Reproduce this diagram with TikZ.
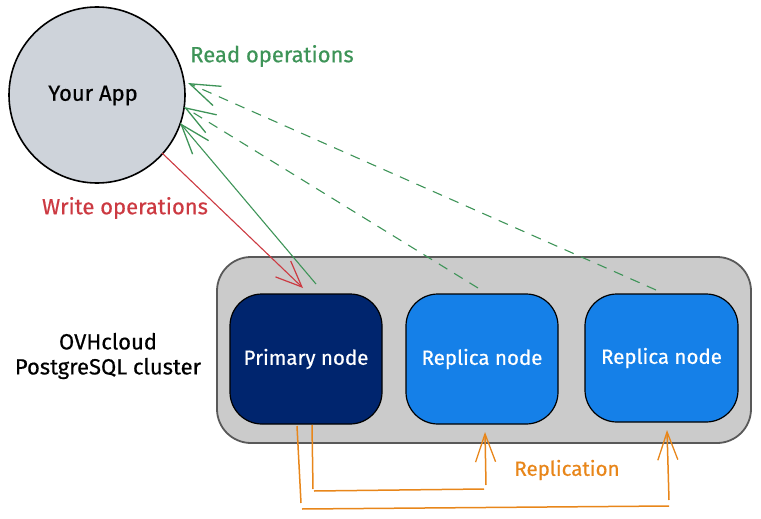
\documentclass[tikz,border=0pt]{standalone}
\usepackage{fontspec}
\setmainfont{Fira Sans}[FakeBold=0.5]
\usetikzlibrary{arrows.meta}
\definecolor{gr}{HTML}{3E9458}
\definecolor{rd}{HTML}{CC3A42}
\definecolor{og}{HTML}{E8861A}
\definecolor{navy}{HTML}{00256E}
\definecolor{blu}{HTML}{1580E8}
\definecolor{clu}{HTML}{CBCBCB}
\definecolor{appc}{HTML}{CED3DA}
\tikzset{
  x=1pt,y=-1pt,
  lbl/.style={font=\fontsize{22}{25}\selectfont,align=center,inner sep=0pt},
  dbnode/.style={draw=black,line width=1.2pt,rounded corners=32pt,minimum width=152pt,minimum height=130pt,inner sep=0pt,text=white,font=\fontsize{20.5}{24}\selectfont},
  readarrow/.style={gr,line width=1.1pt,-{Straight Barb[length=30pt,width=21pt,line width=1.3pt]}},
  writearrow/.style={rd,line width=1.1pt,-{Straight Barb[length=26pt,width=22pt,line width=1.2pt]}},
  replarrow/.style={og,line width=1.5pt,-{Straight Barb[length=28pt,width=20pt,line width=1.3pt]}}
}
\begin{document}
\begin{tikzpicture}
\useasboundingbox (0,0) rectangle (761,519);
\node[circle,draw=black,line width=1.6pt,fill=appc,minimum size=176pt,inner sep=0pt] (app) at (97,95) {};
\node[lbl] (applabel) at (93,95.5) {Your App};
\node[draw=black!65,line width=1.8pt,fill=clu,rounded corners=34pt,minimum width=534pt,minimum height=186pt,inner sep=0pt] (cluster) at (484,350) {};
\node[dbnode,fill=navy] (primary) at (306,359) {Primary node};
\node[dbnode,fill=blu] (replicaa) at (482,359) {Replica node};
\node[dbnode,fill=blu,minimum width=153pt,minimum height=128pt] (replicab) at (661.5,358) {Replica node};
\node[lbl] (clusterlabel) at (108,356) {OVHcloud\\PostgreSQL cluster};
\node[lbl,text=gr] (readlabel) at (272,56) {Read operations};
\node[lbl,text=rd] (writelabel) at (125,208) {Write operations};
\node[lbl,text=og,font=\fontsize{20.5}{24}\selectfont] (repllabel) at (567,470) {Replication};
% read
\coordinate (ra) at (188,83);
\coordinate (rb) at (184,107);
\coordinate (rc) at (180,123);
\coordinate (sa) at (656,290);
\coordinate (sb) at (478,288);
\coordinate (sc) at (316,284);
\draw[readarrow,dash pattern=on 10pt off 8pt] (sa) -- (ra);
\draw[readarrow,dash pattern=on 10pt off 8pt] (sb) -- (rb);
\draw[readarrow] (sc) -- (rc);
% write
\coordinate (wa) at (162,153);
\coordinate (wb) at (303,288);
\draw[writearrow] (wa) -- (wb);
% replication
\coordinate (ia) at (312,425);
\coordinate (ib) at (313,489);
\coordinate (ic) at (314,491);
\coordinate (id) at (484,489);
\coordinate (ie) at (486,485);
\coordinate (if) at (485,432);
\draw[replarrow] (ia) -- (ib) (ic) -- (id) (ie) -- (if);
\coordinate (oa) at (297,426);
\coordinate (ob) at (301,503);
\coordinate (oc) at (302,509);
\coordinate (od) at (669,506);
\coordinate (oe) at (669,500);
\coordinate (of) at (667,430);
\draw[replarrow] (oa) -- (ob) (oc) -- (od) (oe) -- (of);
\end{tikzpicture}
\end{document}
